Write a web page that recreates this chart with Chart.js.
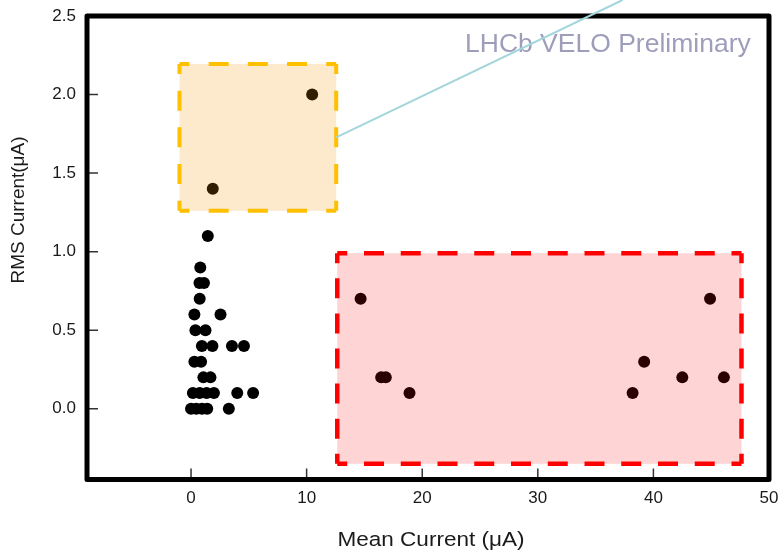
<!DOCTYPE html>
<html><head><meta charset="utf-8">
<script src="https://cdn.jsdelivr.net/npm/chart.js@4.4.1/dist/chart.umd.min.js"></script>
<style>html,body{margin:0;padding:0;background:#fff;} #wrap{width:779px;height:553px;}</style>
</head><body><div id="wrap"><canvas id="c" width="779" height="553"></canvas></div>
<script>
// ---- data ----
const clusterX = [1.45, 0.8, 0.73, 1.12, 0.75, 0.29, 2.55, 0.38, 1.25, 0.94, 1.85, 3.54, 4.58, 0.29, 0.87, 1.07, 1.68, 0.16, 0.75, 1.35, 1.98, 4.0, 5.37, 0.0, 0.45, 0.95, 1.4, 3.27];
const clusterY = [1.1, 0.9, 0.8, 0.8, 0.7, 0.6, 0.6, 0.5, 0.5, 0.4, 0.4, 0.4, 0.4, 0.3, 0.3, 0.2, 0.2, 0.1, 0.1, 0.1, 0.1, 0.1, 0.1, 0.0, 0.0, 0.0, 0.0, 0.0];
const orangeX = [1.88, 10.48];
const orangeY = [1.4, 2.0];
const redX = [14.67, 16.45, 16.85, 18.9, 38.2, 39.2, 42.5, 44.9, 46.1];
const redY = [0.7, 0.2, 0.2, 0.1, 0.1, 0.3, 0.2, 0.7, 0.2];
const xTicks = [0, 10, 20, 30, 40, 50];
const xTickLabels = ['0', '10', '20', '30', '40', '50'];
const yTicks = [0, 0.5, 1.0, 1.5, 2.0, 2.5];
const yTickLabels = ['0.0', '0.5', '1.0', '1.5', '2.0', '2.5'];
const xRange = [-9, 50];
const yRange = [-0.45, 2.5];
const orangeRegionX = [-1.0, 12.56];
const orangeRegionY = [1.26, 2.195];
const redRegionX = [12.65, 47.62];
const redRegionY = [-0.35, 0.99];
const connectorX = [12.56, 37.33];
const connectorY = [1.728, 2.602];
const xTitle = 'Mean Current (\u03BCA)';
const yTitle = 'RMS Current(\u03BCA)';
const noteText = 'LHCb VELO Preliminary';

const FONT = '"Liberation Sans", Arial, Helvetica, sans-serif';
const toPts = (xs, ys) => xs.map((v, i) => ({x: v, y: ys[i]}));

function drawText(ctx, text, x, y, size, sx, color, align, rot) {
  ctx.save();
  ctx.translate(x, y);
  if (rot) ctx.rotate(rot);
  ctx.scale(sx, 1);
  ctx.font = size + 'px ' + FONT;
  ctx.fillStyle = color;
  ctx.textAlign = align;
  ctx.textBaseline = 'middle';
  ctx.fillText(text, 0, 0);
  ctx.restore();
}

function dashedSide(ctx, x0, y0, x1, y1, D, G, h) {
  const L = Math.hypot(x1 - x0, y1 - y0);
  let n = Math.max(1, Math.round((L - 2 * h + D) / (D + G)));
  let g = (L - 2 * h - (n - 1) * D) / n;
  ctx.setLineDash([D, g]);
  ctx.lineDashOffset = D - h;
  ctx.beginPath();
  ctx.moveTo(x0, y0);
  ctx.lineTo(x1, y1);
  ctx.stroke();
}

function drawRegion(ctx, scX, scY, rx, ry, fill, stroke, lw) {
  const l = scX.getPixelForValue(rx[0]), r = scX.getPixelForValue(rx[1]);
  const t = scY.getPixelForValue(ry[1]), b = scY.getPixelForValue(ry[0]);
  ctx.save();
  ctx.fillStyle = fill;
  ctx.fillRect(l, t, r - l, b - t);
  ctx.strokeStyle = stroke;
  ctx.lineWidth = lw;
  ctx.lineCap = 'butt';
  dashedSide(ctx, l, t, r, t, 20, 17, 10);
  dashedSide(ctx, r, t, r, b, 20, 17, 10);
  dashedSide(ctx, r, b, l, b, 20, 17, 10);
  dashedSide(ctx, l, b, l, t, 20, 17, 10);
  ctx.restore();
}

const overlay = {
  id: 'overlay',
  afterDatasetsDraw(chart) {
    const {ctx, scales: {x, y}} = chart;
    drawRegion(ctx, x, y, orangeRegionX, orangeRegionY, 'rgba(245,145,0,0.2)', '#FFC000', 4);
    drawRegion(ctx, x, y, redRegionX, redRegionY, 'rgba(255,0,0,0.17)', '#FF0000', 4.5);
  },
  afterDraw(chart) {
    const {ctx, chartArea: a, scales: {x, y}} = chart;
    ctx.save();
    // inward tick marks
    ctx.strokeStyle = '#333';
    ctx.lineWidth = 1.5;
    ctx.beginPath();
    xTicks.forEach(v => { const p = x.getPixelForValue(v); ctx.moveTo(p, a.bottom); ctx.lineTo(p, a.bottom - 11); });
    yTicks.forEach(v => { const p = y.getPixelForValue(v); ctx.moveTo(a.left, p); ctx.lineTo(a.left + 11, p); });
    ctx.stroke();
    // frame
    ctx.strokeStyle = '#000';
    ctx.lineWidth = 5;
    ctx.lineJoin = 'round';
    ctx.strokeRect(a.left, a.top, a.right - a.left, a.bottom - a.top);
    // note text
    drawText(ctx, noteText, 465, 45, 25, 1.06, '#9e9ebb', 'left', 0);
    // connector line
    ctx.strokeStyle = '#a3d6dc';
    ctx.lineWidth = 2;
    ctx.beginPath();
    ctx.moveTo(x.getPixelForValue(connectorX[0]), y.getPixelForValue(connectorY[0]));
    ctx.lineTo(x.getPixelForValue(connectorX[1]), y.getPixelForValue(connectorY[1]));
    ctx.stroke();
    // axis titles
    drawText(ctx, xTitle, (a.left + a.right) / 2 + 3, 540, 20.5, 1.1, '#1a1a1a', 'center', 0);
    drawText(ctx, yTitle, 19, 210, 19, 1.0, '#1a1a1a', 'center', -Math.PI / 2);
    ctx.restore();
  }
};

const zeroPad = s => { s.paddingTop = 0; s.paddingBottom = 0; s.paddingLeft = 0; s.paddingRight = 0; };
const pointStyle = {pointRadius: 6, pointHoverRadius: 6, pointBackgroundColor: '#000', pointBorderWidth: 0, showLine: false};

new Chart(document.getElementById('c'), {
  type: 'scatter',
  data: {
    datasets: [
      Object.assign({label: 'cluster', data: toPts(clusterX, clusterY)}, pointStyle),
      Object.assign({label: 'orange', data: toPts(orangeX, orangeY)}, pointStyle),
      Object.assign({label: 'red', data: toPts(redX, redY)}, pointStyle)
    ]
  },
  options: {
    responsive: false,
    animation: false,
    devicePixelRatio: 1,
    layout: {padding: {top: 16, right: 10, left: 0, bottom: 0}},
    plugins: {legend: {display: false}, tooltip: {enabled: false}},
    scales: {
      x: {
        type: 'linear', min: xRange[0], max: xRange[1],
        grid: {display: false, drawTicks: false}, border: {display: false},
        ticks: {font: {family: FONT, size: 17}, color: '#1a1a1a', padding: 9, maxRotation: 0, autoSkip: false,
          callback: (v, i) => xTickLabels[i]},
        afterBuildTicks: s => { s.ticks = xTicks.map(v => ({value: v})); },
        afterFit: s => { s.height = 73.5; zeroPad(s); }
      },
      y: {
        type: 'linear', min: yRange[0], max: yRange[1],
        grid: {display: false, drawTicks: false}, border: {display: false},
        ticks: {font: {family: FONT, size: 17}, color: '#1a1a1a', padding: 11, autoSkip: false,
          callback: (v, i) => yTickLabels[i]},
        afterBuildTicks: s => { s.ticks = yTicks.map(v => ({value: v})); },
        afterFit: s => { s.width = 87; zeroPad(s); }
      }
    }
  },
  plugins: [overlay]
});
</script></body></html>
